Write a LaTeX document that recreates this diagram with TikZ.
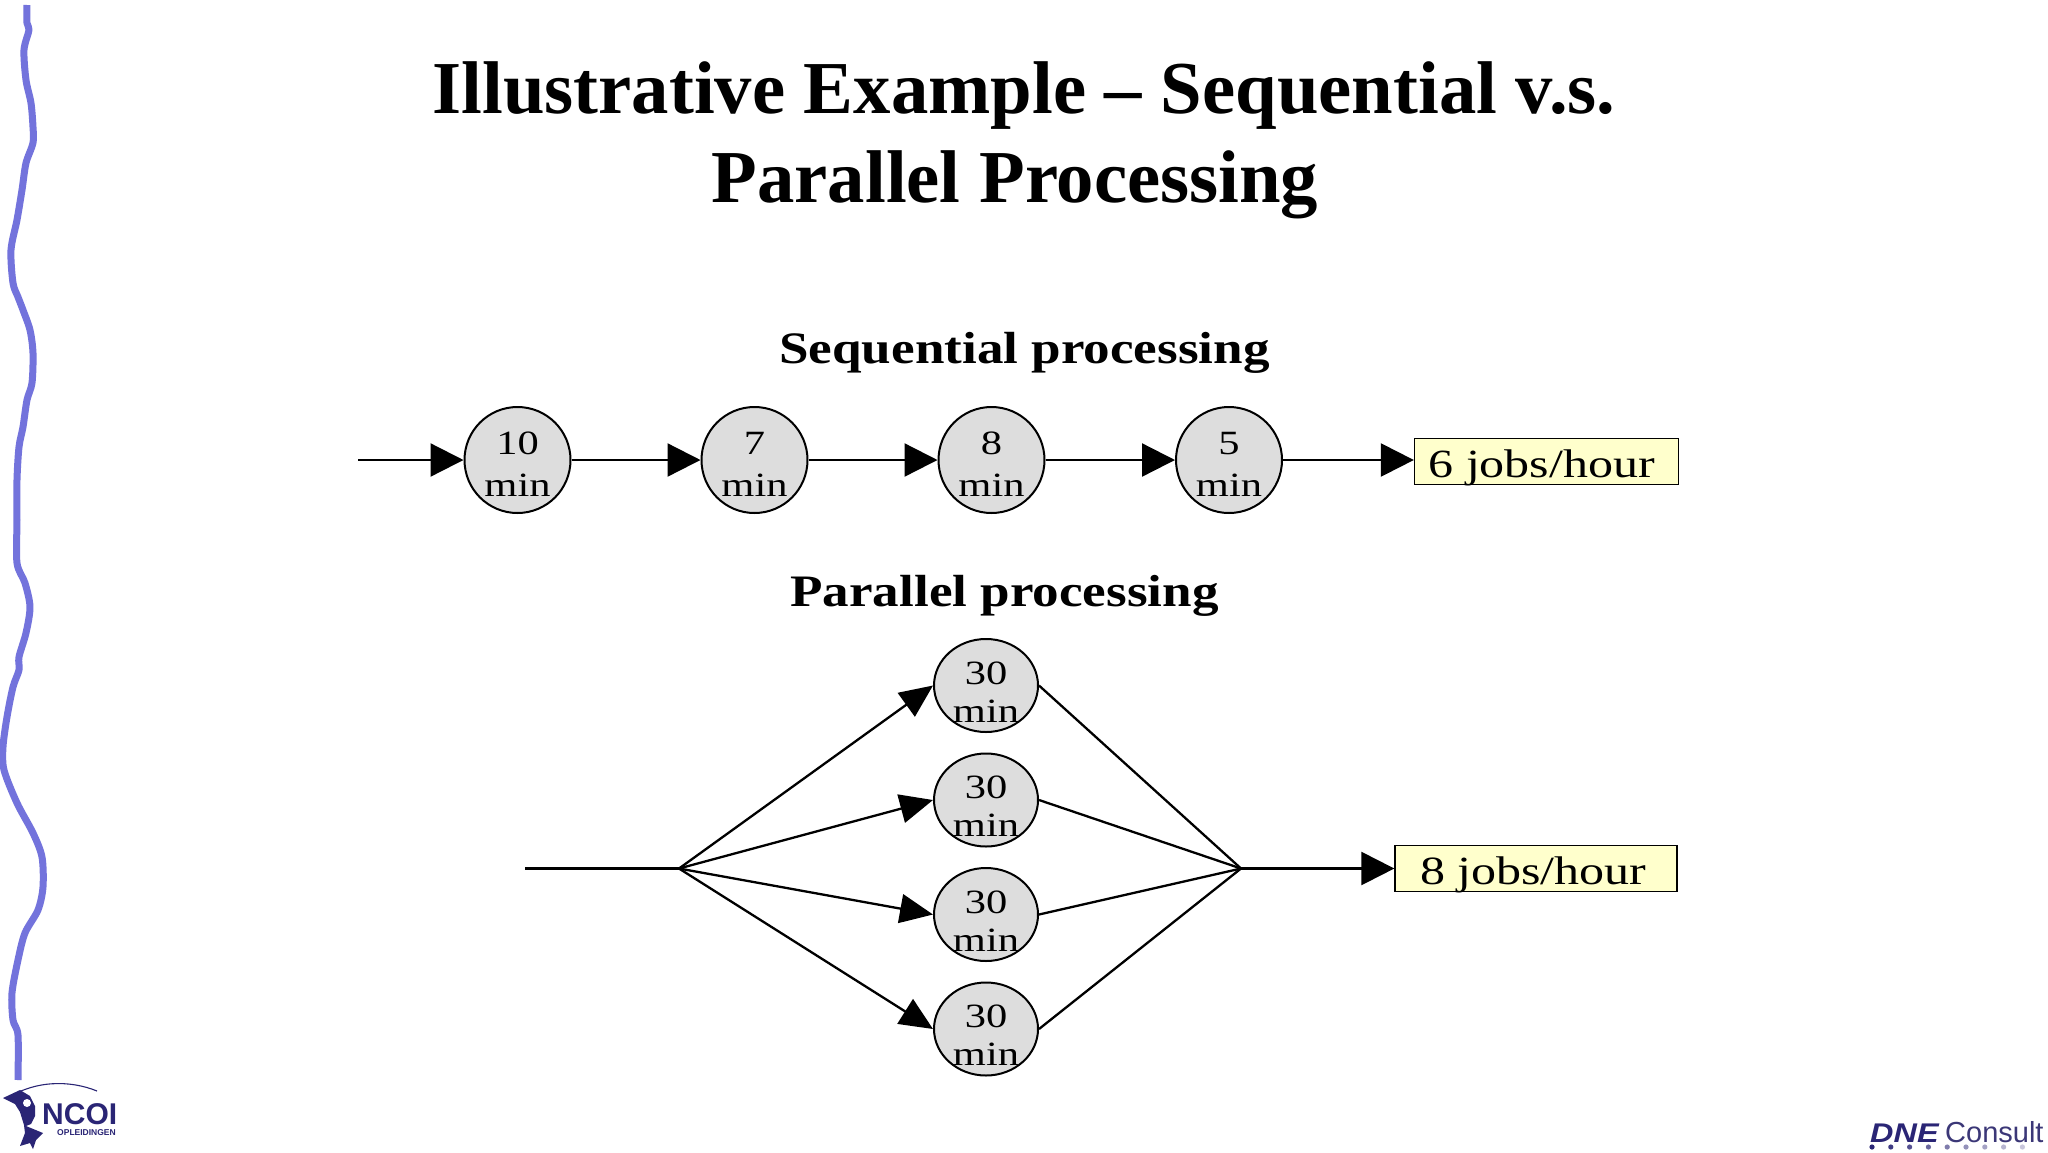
\documentclass[tikz,border=0pt]{standalone}
\usepackage{fontspec}
\setmainfont{Liberation Serif}
\newfontfamily\wideserif[FakeStretch=1.25]{Liberation Serif}
\newfontfamily\wideserifb[FakeStretch=1.18]{Liberation Serif Bold}
\newfontfamily\logosans{Liberation Sans}
\newfontfamily\logosanswide[FakeStretch=1.2]{Liberation Sans Bold Italic}
\usetikzlibrary{arrows.meta,shapes.geometric}
\definecolor{wave}{HTML}{7373DC}
\definecolor{logoblue}{HTML}{2A2575}
\definecolor{nodegray}{HTML}{DDDDDD}
\definecolor{boxyellow}{HTML}{FFFFCC}
\newcommand\twoline[4]{\makebox[0pt][c]{\raisebox{#3}[0pt][0pt]{#1}}\makebox[0pt][c]{\raisebox{#4}[0pt][0pt]{#2}}}
\tikzset{
  titletext/.style={anchor=base,inner sep=0pt,font=\fontsize{74.7}{74.7}\selectfont\bfseries},
  subtext/.style={anchor=base,inner sep=0pt,font=\fontsize{45}{45}\selectfont\wideserifb},
  seqnode/.style={circle,draw=black,line width=2pt,fill=nodegray,minimum size=106pt,inner sep=0pt,font=\fontsize{34}{34}\selectfont\wideserif},
  parnode/.style={ellipse,draw=black,line width=2pt,fill=nodegray,minimum width=104pt,minimum height=93pt,inner sep=0pt,font=\fontsize{34}{34}\selectfont\wideserif},
  ratebox/.style={rectangle,draw=black,line width=1.3pt,fill=boxyellow,inner sep=0pt,font=\fontsize{40}{40}\selectfont\wideserif},
  flow/.style={draw=black,line width=2.3pt,-{Triangle[length=33pt,width=33pt]}},
  flowb/.style={draw=black,line width=2.3pt,-{Triangle[length=33pt,width=29pt]}},
  plainline/.style={draw=black,line width=2.3pt},
}
\begin{document}
\begin{tikzpicture}[x=1pt,y=-1pt]
\useasboundingbox (0,0) rectangle (2048,1152);
\fill[white] (0,0) rectangle (2048,1152);
% hand-drawn left rule
\draw[wave,line width=7pt,line join=round] plot[smooth,tension=0.5] coordinates {
(27,5) (27,23) (29,30) (24,50) (26,80) (31,103) (33,127) (33,143) (26,163) (22,190) (17,220) (11,250) (13,283) (18,297) (23,310) (30,330) (33,353) (32,383) (27,400) (23,427) (19,447) (17,480) (17,520) (17,563) (25,583) (30,607) (26,633) (19,657) (19,670) (13,687) (7,717) (3,747) (4,770) (17,803) (33,833) (42,857) (43,887) (38,910) (25,933) (18,960) (12,993) (13,1020) (18,1035) (18,1080)};
% title
\node[titletext] (t1) at (1024,113) {Illustrative Example – Sequential v.s.};
\node[titletext] (t2) at (1015,202) {Parallel Processing};
\node[subtext] (seqtitle) at (1024.5,363) {Sequential processing};
\node[subtext] (partitle) at (1004.5,606) {Parallel processing};
% sequential
\coordinate (seqin) at (358,460);
\node[seqnode] (s1) at (517.5,460) {\twoline{10}{min}{5.5pt}{-36.5pt}};
\node[seqnode] (s2) at (754.5,460) {\twoline{7}{min}{5.5pt}{-36.5pt}};
\node[seqnode] (s3) at (991.5,460) {\twoline{8}{min}{5.5pt}{-36.5pt}};
\node[seqnode] (s4) at (1229,460) {\twoline{5}{min}{5.5pt}{-36.5pt}};
\node[ratebox,minimum width=264pt,minimum height=46pt] (r1) at (1546.5,461.5) {\makebox[0pt][c]{\raisebox{-16pt}[0pt][0pt]{\makebox[264pt][l]{\hspace*{14pt}6 jobs/hour}}}};
\draw[flow] (seqin) -- (s1.west);
\draw[flow] (s1.east) -- (s2.west);
\draw[flow] (s2.east) -- (s3.west);
\draw[flow] (s3.east) -- (s4.west);
\draw[flow] (s4.east) -- (s4.east -| r1.west);
% parallel
\coordinate (parin) at (525,868.5);
\coordinate (ja) at (679,868.5);
\coordinate (jb) at (1241,868.5);
\node[parnode] (p1) at (986,685.5) {\twoline{30}{min}{1.5pt}{-36.5pt}};
\node[parnode] (p2) at (986,800) {\twoline{30}{min}{1.5pt}{-36.5pt}};
\node[parnode] (p3) at (986,914.5) {\twoline{30}{min}{1.5pt}{-36.5pt}};
\node[parnode] (p4) at (986,1029) {\twoline{30}{min}{1.5pt}{-36.5pt}};
\node[ratebox,minimum width=282pt,minimum height=46pt] (r2) at (1536,868.5) {\makebox[0pt][c]{\raisebox{-16pt}[0pt][0pt]{\makebox[282pt][l]{\hspace*{25pt}8 jobs/hour}}}};
\draw[plainline] (parin) -- (ja);
\draw[flowb] (ja) -- (p1.west);
\draw[flowb] (ja) -- (p2.west);
\draw[flowb] (ja) -- (p3.west);
\draw[flowb] (ja) -- (p4.west);
\draw[plainline] (p1.east) -- (jb);
\draw[plainline] (p2.east) -- (jb);
\draw[plainline] (p3.east) -- (jb);
\draw[plainline] (p4.east) -- (jb);
\draw[flow] (jb) -- (r2.west);
% NCOI logo
\draw[logoblue,line width=1.1pt] (6,1099) .. controls (35,1080) and (70,1080) .. (97,1091);
\fill[logoblue] (3,1098) -- (20,1090) -- (30,1096) -- (35,1106) -- (35,1116) -- (31,1124) -- (26,1126) -- (43,1133) -- (36,1140) -- (33,1149) -- (30,1143) -- (20,1146) -- (25,1133) -- (24,1125) -- (20,1112) -- (15,1104) -- cycle;
\fill[white] (27,1103) circle (4pt);
\node[anchor=base west,inner sep=0pt,text=logoblue,font=\fontsize{30}{30}\selectfont\logosans\bfseries] (ncoi) at (42,1124) {NCOI};
\node[anchor=base east,inner sep=0pt,text=logoblue,font=\fontsize{8.5}{8.5}\selectfont\logosans\bfseries] (opl) at (116,1135) {OPLEIDINGEN};
% DNE logo
\node[anchor=base west,inner sep=0pt,text=logoblue,font=\fontsize{27}{27}\selectfont\logosanswide] (dne) at (1870,1142) {DNE};
\node[anchor=base west,inner sep=0pt,text=logoblue!80!gray,font=\fontsize{29}{29}\selectfont\logosans] (consult) at (1945,1142) {Consult};
\foreach \i/\o in {0/100,1/90,2/80,3/70,4/60,5/50,6/42,7/34,8/26}
  \fill[logoblue!\o!white] ({1872+\i*18.8},1147) circle (2.6pt);
\end{tikzpicture}
\end{document}
